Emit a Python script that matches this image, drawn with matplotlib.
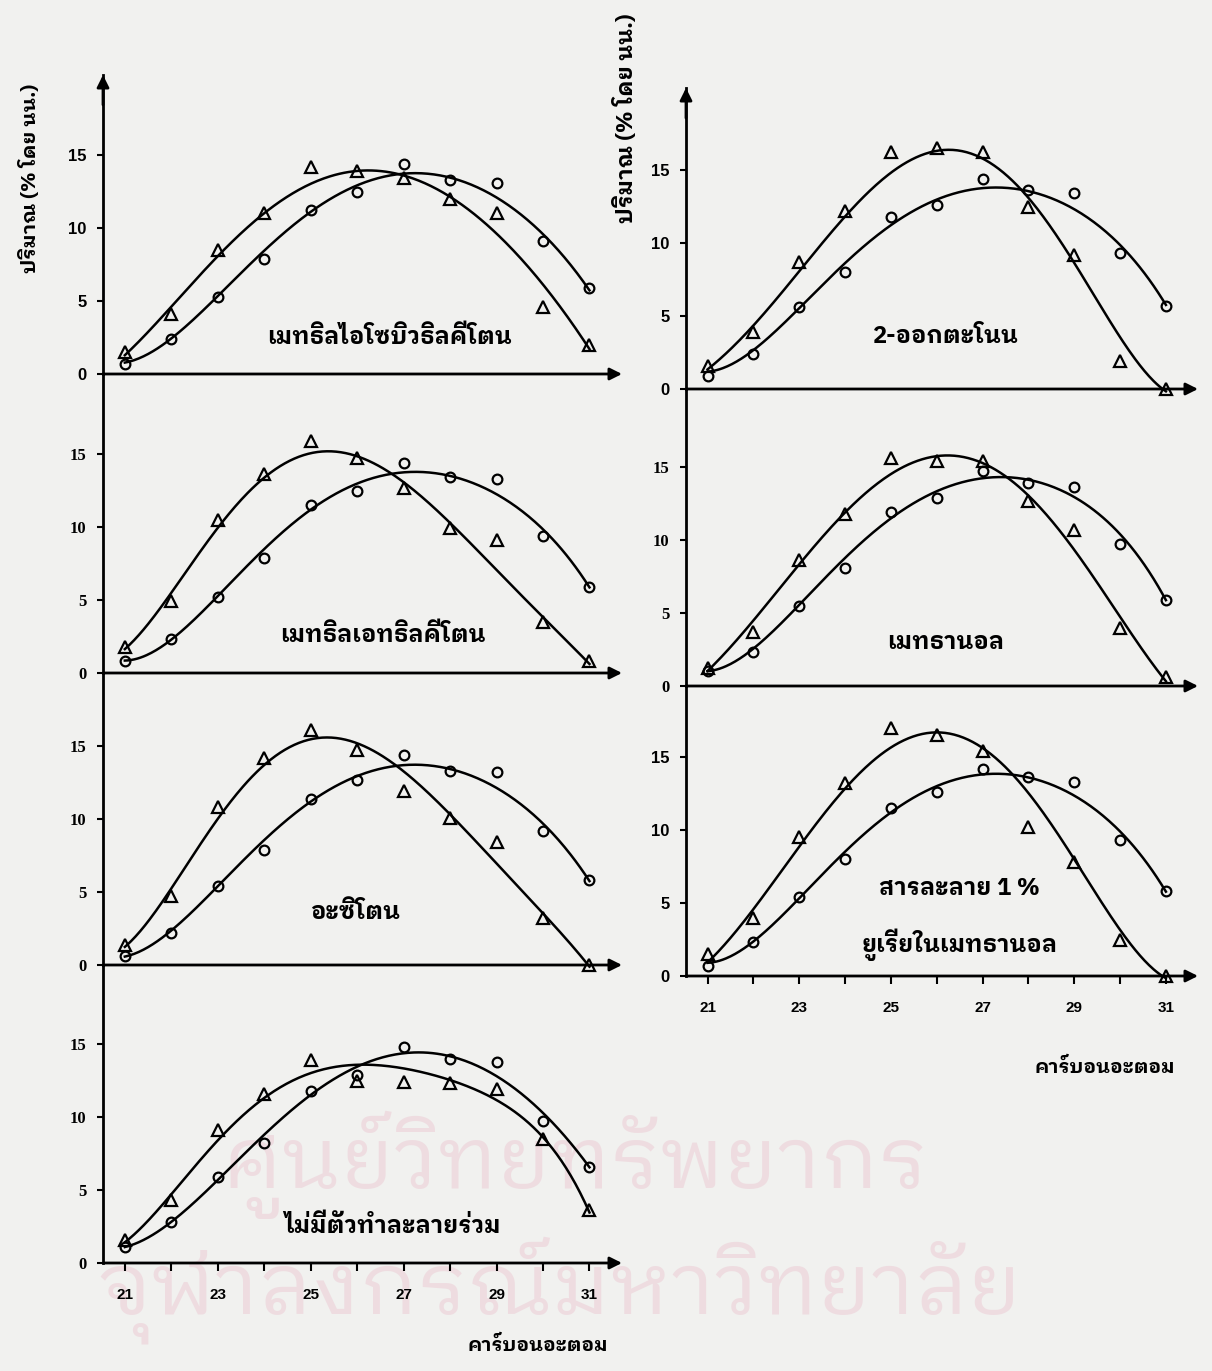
import numpy as np
import matplotlib
matplotlib.use("Agg")
import matplotlib.pyplot as plt

# ---------------- data ----------------
carbon = [21, 22, 23, 24, 25, 26, 27, 28, 29, 30, 31]
x_tick_labels = ["21", "", "23", "", "25", "", "27", "", "29", "", "31"]
y_ticks = [0, 5, 10, 15]

# measured points (circles / triangles), left column
mibk_circle   = [0.7, 2.4, 5.3, 7.9, 11.2, 12.5, 14.4, 13.3, 13.1, 9.1, 5.9]
mibk_triangle = [1.5, 4.1, 8.5, 11.0, 14.2, 13.9, 13.4, 12.0, 11.0, 4.6, 2.0]
mek_circle    = [0.8, 2.3, 5.2, 7.9, 11.5, 12.5, 14.4, 13.4, 13.3, 9.4, 5.9]
mek_triangle  = [1.8, 4.9, 10.5, 13.6, 15.9, 14.7, 12.7, 9.9, 9.1, 3.5, 0.8]
acetone_circle   = [0.6, 2.2, 5.4, 7.9, 11.4, 12.7, 14.4, 13.3, 13.2, 9.2, 5.8]
acetone_triangle = [1.4, 4.7, 10.8, 14.2, 16.1, 14.7, 11.9, 10.1, 8.4, 3.2, 0.0]
none_circle   = [1.1, 2.8, 5.9, 8.2, 11.8, 12.9, 14.8, 14.0, 13.8, 9.7, 6.6]
none_triangle = [1.6, 4.3, 9.1, 11.6, 13.9, 12.5, 12.4, 12.3, 11.9, 8.5, 3.6]

# right column
octanone_circle   = [0.9, 2.4, 5.6, 8.0, 11.8, 12.6, 14.4, 13.6, 13.4, 9.3, 5.7]
octanone_triangle = [1.6, 3.9, 8.7, 12.2, 16.2, 16.5, 16.2, 12.5, 9.2, 1.9, 0.0]
methanol_circle   = [1.0, 2.3, 5.5, 8.1, 11.9, 12.9, 14.7, 13.9, 13.6, 9.7, 5.9]
methanol_triangle = [1.2, 3.7, 8.6, 11.8, 15.6, 15.4, 15.4, 12.7, 10.7, 4.0, 0.6]
urea_circle   = [0.7, 2.3, 5.4, 8.0, 11.5, 12.6, 14.2, 13.6, 13.3, 9.3, 5.8]
urea_triangle = [1.5, 4.0, 9.5, 13.2, 17.0, 16.5, 15.4, 10.2, 7.8, 2.5, 0.0]

# hand-drawn smoothing curves, read at each carbon number
mibk_circle_curve   = [0.8, 2.4, 5.3, 8.5, 11.2, 12.9, 13.5, 13.5, 12.4, 9.3, 5.8]
mibk_triangle_curve = [1.4, 4.2, 8.5, 11.0, 13.0, 13.7, 13.6, 12.2, 9.9, 5.8, 1.8]
mek_circle_curve    = [0.85, 2.3, 5.25, 8.4, 11.4, 12.9, 13.6, 13.55, 12.4, 9.7, 5.9]
mek_triangle_curve  = [1.8, 4.9, 10.5, 13.6, 14.7, 14.6, 13.2, 10.5, 7.1, 3.6, 0.7]
acetone_circle_curve   = [0.6, 2.3, 5.4, 8.6, 11.3, 12.8, 13.6, 13.5, 12.3, 9.5, 5.8]
acetone_triangle_curve = [1.4, 4.7, 10.4, 14.1, 15.1, 14.9, 13.3, 10.6, 7.1, 3.2, 0.0]
none_circle_curve   = [1.1, 2.8, 5.7, 8.7, 11.7, 13.4, 14.2, 14.2, 13.0, 10.1, 6.6]
none_triangle_curve = [1.5, 4.4, 8.7, 11.4, 12.8, 13.5, 13.4, 12.6, 11.2, 8.5, 3.5]
octanone_circle_curve   = [1.2, 2.6, 5.7, 8.3, 11.6, 12.85, 13.6, 13.6, 12.5, 9.7, 5.8]
octanone_triangle_curve = [1.5, 3.8, 8.55, 11.95, 14.7, 16.1, 15.6, 13.3, 9.1, 3.0, 0.0]
methanol_circle_curve   = [1.0, 2.6, 5.6, 8.5, 11.8, 13.3, 14.1, 14.1, 13.1, 10.3, 5.9]
methanol_triangle_curve = [1.2, 3.9, 8.85, 12.0, 14.5, 15.4, 15.1, 13.3, 9.8, 4.15, 0.5]
urea_circle_curve   = [0.9, 2.35, 5.45, 8.2, 11.5, 13.0, 13.65, 13.6, 12.5, 9.8, 5.8]
urea_triangle_curve = [1.1, 4.0, 9.3, 13.1, 15.6, 16.2, 15.5, 13.0, 8.2, 2.7, 0.0]

panel_names = {
    "mibk": "เมทธิลไอโซบิวธิลคีโตน",
    "mek": "เมทธิลเอทธิลคีโตน",
    "acetone": "อะซิโตน",
    "none": "ไม่มีตัวทำละลายร่วม",
    "octanone": "2-ออกตะโนน",
    "methanol": "เมทธานอล",
    "urea": "สารละลาย 1 %\nยูเรียในเมทธานอล",
}
y_label = "ปริมาณ (% โดย นน.)"
x_label = "คาร์บอนอะตอม"

# ---------------- layout ----------------
W, H = 1212, 1371
fig = plt.figure(figsize=(W / 100, H / 100), dpi=100)
fig.patch.set_facecolor("#f1f1ef")

THAI = ["IBM Plex Sans Thai Looped", "DejaVu Sans"]
SANS = "Liberation Sans"
SERIF = "Liberation Serif"
UNIT = 14.6  # px per % unit


def fig_axes(x0, x1, ytop, ybot):
    return fig.add_axes([x0 / W, 1 - ybot / H, (x1 - x0) / W, (ybot - ytop) / H])


def panel(x0, x1, ytop, ybot, circ, tri, circ_curve, tri_curve, name, label_xy,
          tickfont, bottom=False, top=False, xfont=SANS):
    ax = fig_axes(x0, x1, ytop, ybot)
    ax.set_facecolor("none")
    ax.set_xlim(20.53, 31.7)
    ax.set_ylim(0, (ybot - ytop) / UNIT)
    for s in ["top", "right", "bottom"]:
        ax.spines[s].set_visible(False)
    ax.spines["left"].set_linewidth(2)
    ax.set_yticks(y_ticks)
    ax.set_yticklabels([str(v) for v in y_ticks], fontfamily=tickfont,
                       fontweight="bold", fontsize=12)
    ax.tick_params(axis="y", length=4, width=1.5, pad=8)
    if bottom:
        ax.set_xticks(carbon)
        ax.set_xticklabels(x_tick_labels, fontfamily=xfont, fontweight="bold",
                           fontsize=11)
        ax.tick_params(axis="x", length=6, width=1.5, pad=12, direction="out")
    else:
        ax.set_xticks([])
    ax.annotate("", xy=(1.0, 0), xytext=(0, 0), xycoords=("axes fraction", "data"),
                arrowprops=dict(arrowstyle="-|>", lw=2, color="k",
                                mutation_scale=18, shrinkA=0, shrinkB=0),
                annotation_clip=False)
    if top:
        ax.annotate("", xy=(0, 1.0), xytext=(0, 0.9), xycoords="axes fraction",
                    arrowprops=dict(arrowstyle="-|>", lw=2, color="k",
                                    mutation_scale=18, shrinkA=0, shrinkB=0),
                    annotation_clip=False)
    xs = np.array(carbon, float)
    xf = np.linspace(21, 31, 300)
    for series, curve, mk, ms in [(circ, circ_curve, "o", 7),
                                  (tri, tri_curve, "^", 8)]:
        # smooth the hand-drawn curve read-out with a low-order polynomial
        coef = np.polyfit(xs, np.array(curve, float), 5)
        ax.plot(xf, np.polyval(coef, xf), color="k", lw=1.8, clip_on=False)
        ax.plot(carbon, series, ls="none", marker=mk, ms=ms, mfc="none",
                mec="k", mew=1.6, clip_on=False)
    ax.text(label_xy[0], label_xy[1], name, transform=ax.transData,
            ha="center", va="center", fontfamily=THAI, fontweight="bold",
            fontsize=17, linespacing=2.2)
    return ax


LX0, LX1 = 103, 622
RX0, RX1 = 686, 1198

panel(LX0, LX1, 75, 374, mibk_circle, mibk_triangle, mibk_circle_curve,
      mibk_triangle_curve, panel_names["mibk"], (26.7, 2.5), SANS, top=True)
panel(LX0, LX1, 374, 673, mek_circle, mek_triangle, mek_circle_curve,
      mek_triangle_curve, panel_names["mek"], (26.55, 2.6), SERIF)
panel(LX0, LX1, 673, 965, acetone_circle, acetone_triangle, acetone_circle_curve,
      acetone_triangle_curve, panel_names["acetone"], (25.95, 3.6), SERIF)
panel(LX0, LX1, 965, 1263, none_circle, none_triangle, none_circle_curve,
      none_triangle_curve, panel_names["none"], (26.75, 2.5), SERIF,
      bottom=True, xfont=SANS)

panel(RX0, RX1, 88, 389, octanone_circle, octanone_triangle,
      octanone_circle_curve, octanone_triangle_curve, panel_names["octanone"],
      (26.2, 3.6), SANS, top=True)
panel(RX0, RX1, 389, 686, methanol_circle, methanol_triangle,
      methanol_circle_curve, methanol_triangle_curve, panel_names["methanol"],
      (26.2, 3.0), SERIF)
panel(RX0, RX1, 686, 976, urea_circle, urea_triangle, urea_circle_curve,
      urea_triangle_curve, panel_names["urea"], (26.5, 3.9), SANS,
      bottom=True, xfont=SANS)

# axis titles
fig.text(30 / W, 1 - 178 / H, y_label, rotation=90, ha="center", va="center",
         fontfamily=THAI, fontweight="bold", fontsize=14.5)
fig.text(625 / W, 1 - 118 / H, y_label, rotation=90, ha="center", va="center",
         fontfamily=THAI, fontweight="bold", fontsize=16)
fig.text(538 / W, 1 - 1345 / H, x_label, ha="center", va="center",
         fontfamily=THAI, fontweight="bold", fontsize=14)
fig.text(1105 / W, 1 - 1067 / H, x_label, ha="center", va="center",
         fontfamily=THAI, fontweight="bold", fontsize=14)

# faint watermark of the scanned page
fig.text(575 / W, 1 - 1165 / H, "ศูนย์วิทยทรัพยากร", ha="center", va="center",
         fontfamily=THAI, fontsize=62, color="#e9b7c6", alpha=0.35, zorder=-5)
fig.text(560 / W, 1 - 1290 / H, "จุฬาลงกรณ์มหาวิทยาลัย", ha="center", va="center",
         fontfamily=THAI, fontsize=62, color="#e9b7c6", alpha=0.35, zorder=-5)

fig.savefig("out.png", dpi=100, facecolor=fig.get_facecolor())
